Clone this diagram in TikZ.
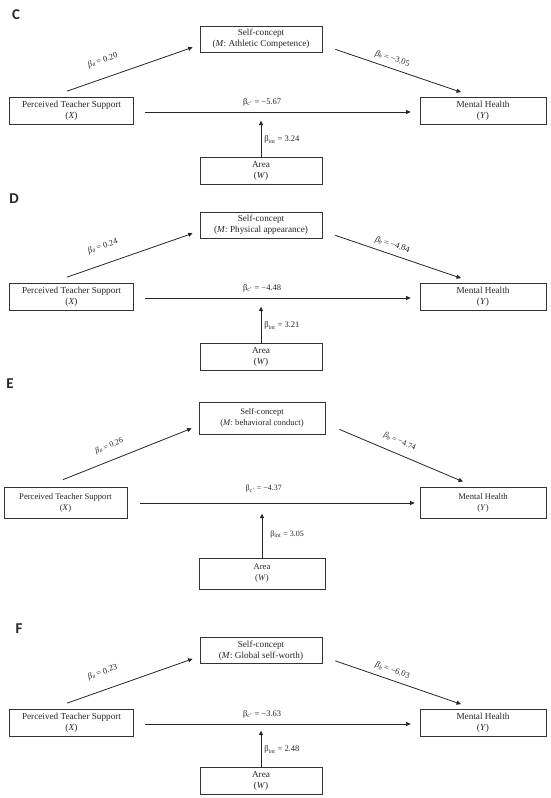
\documentclass[tikz,border=0pt]{standalone}
\usepackage{fontspec}
\setmainfont{Liberation Serif}
\newfontfamily\panelfont{Carlito}
\usetikzlibrary{arrows.meta}
\begin{document}
\begin{tikzpicture}[x=1pt,y=-1pt,
  every node/.style={text=black!85},
  box/.style={draw=black!80, line width=0.7pt, align=center, inner sep=0pt, minimum height=27pt, font=\fontsize{9.2}{11}\selectfont},
  boxE/.style={box, minimum height=31pt, font=\fontsize{8.6}{11}\selectfont},
  arr/.style={draw=black!85, line width=0.8pt, -{Triangle[length=4.5pt,width=4pt]}},
  lab/.style={font=\fontsize{8.5}{10}\selectfont, inner sep=0pt},
  labE/.style={font=\fontsize{8}{10}\selectfont, inner sep=0pt},
  panel/.style={font=\panelfont\bfseries\fontsize{15}{15}\selectfont, inner sep=0pt}
]
\useasboundingbox[fill=white] (0,0) rectangle (550,798);

% ---------------- Panel C ----------------
\node[panel] (lC) at (16,15) {C};
\node[box, minimum width=124pt] (XC) at (71.5,110.5) {Perceived Teacher Support\\(\textit{X})};
\node[box, minimum width=122pt, minimum height=26pt] (MC) at (261,39) {Self-concept\\(\textit{M}: Athletic Competence)};
\node[box, minimum width=126pt] (YC) at (483,110.5) {Mental Health\\(\textit{Y})};
\node[box, minimum width=122pt] (WC) at (261,170.5) {Area\\(\textit{W})};
\draw[arr] ([shift={(-4.5pt,5.5pt)}]XC.north) -- node[lab, sloped, above=13pt, pos=0.33] {\textit{β}\textsubscript{\textit{a}}\,= 0.20} ([shift={(-7pt,5pt)}]MC.south west);
\draw[arr] ([shift={(13pt,3pt)}]MC.south east) -- node[lab, sloped, above=5pt, pos=0.43] {\textit{β}\textsubscript{\textit{b}}\,= −3.05} ([shift={(-22pt,4.5pt)}]YC.north);
\draw[arr] ([shift={(11.5pt,-1.5pt)}]XC.east) -- node[lab, above=5.5pt, pos=0.44] {β\textsubscript{c'} = −5.67} ([shift={(-9pt,-1.5pt)}]YC.west);
\draw[arr] (WC.north) -- node[lab, right=3pt, pos=0.47] {β\textsubscript{int} = 3.24} ([yshift=36pt]WC.north);

% ---------------- Panel D ----------------
\node[panel] (lD) at (14,199) {D};
\node[box, minimum width=124pt] (XD) at (71.5,296.5) {Perceived Teacher Support\\(\textit{X})};
\node[box, minimum width=122pt, minimum height=26pt] (MD) at (261,225) {Self-concept\\(\textit{M}: Physical appearance)};
\node[box, minimum width=126pt] (YD) at (483,296.5) {Mental Health\\(\textit{Y})};
\node[box, minimum width=122pt] (WD) at (261,356.5) {Area\\(\textit{W})};
\draw[arr] ([shift={(-4.5pt,5.5pt)}]XD.north) -- node[lab, sloped, above=13pt, pos=0.33] {\textit{β}\textsubscript{\textit{a}}\,= 0.24} ([shift={(-7pt,5pt)}]MD.south west);
\draw[arr] ([shift={(13pt,3pt)}]MD.south east) -- node[lab, sloped, above=5pt, pos=0.43] {\textit{β}\textsubscript{\textit{b}}\,= −4.84} ([shift={(-22pt,4.5pt)}]YD.north);
\draw[arr] ([shift={(11.5pt,-1.5pt)}]XD.east) -- node[lab, above=5.5pt, pos=0.44] {β\textsubscript{c'} = −4.48} ([shift={(-9pt,-1.5pt)}]YD.west);
\draw[arr] (WD.north) -- node[lab, right=3pt, pos=0.47] {β\textsubscript{int} = 3.21} ([yshift=36pt]WD.north);

% ---------------- Panel E ----------------
\node[panel] (lE) at (10,384) {E};
\node[boxE, minimum width=123pt] (XE) at (65.5,502.5) {Perceived Teacher Support\\(\textit{X})};
\node[boxE, minimum width=126pt, minimum height=32pt] (ME) at (262,418) {Self-concept\\(\textit{M}: behavioral conduct)};
\node[boxE, minimum width=126pt] (YE) at (483,502.5) {Mental Health\\(\textit{Y})};
\node[boxE, minimum width=126pt] (WE) at (262,573.5) {Area\\(\textit{W})};
\draw[arr] ([shift={(-2.5pt,7pt)}]XE.north) -- node[labE, sloped, above=10pt, pos=0.40] {\textit{β}\textsubscript{\textit{a}}\,= 0.26} ([shift={(-7pt,6pt)}]ME.south west);
\draw[arr] ([shift={(14pt,5pt)}]ME.south east) -- node[labE, sloped, above=8pt, pos=0.45] {\textit{β}\textsubscript{\textit{b}}\,= −4.74} ([shift={(-20pt,5pt)}]YE.north);
\draw[arr] ([shift={(13pt,-0.5pt)}]XE.east) -- node[labE, above=10pt, pos=0.45] {β\textsubscript{c'} = −4.37} ([shift={(-5pt,-0.5pt)}]YE.west);
\draw[arr] (WE.north) -- node[labE, right=8pt, pos=0.52] {β\textsubscript{int} = 3.05} ([yshift=44pt]WE.north);

% ---------------- Panel F ----------------
\node[panel] (lF) at (19,629) {F};
\node[box, minimum width=124pt] (XF) at (71.5,722.5) {Perceived Teacher Support\\(\textit{X})};
\node[box, minimum width=122pt, minimum height=26pt] (MF) at (261,650.5) {Self-concept\\(\textit{M}: Global self-worth)};
\node[box, minimum width=126pt] (YF) at (483,722.5) {Mental Health\\(\textit{Y})};
\node[box, minimum width=122pt] (WF) at (261,780.5) {Area\\(\textit{W})};
\draw[arr] ([shift={(-4.5pt,5.5pt)}]XF.north) -- node[lab, sloped, above=13pt, pos=0.33] {\textit{β}\textsubscript{\textit{a}}\,= 0.23} ([shift={(-7pt,5pt)}]MF.south west);
\draw[arr] ([shift={(13pt,3pt)}]MF.south east) -- node[lab, sloped, above=5pt, pos=0.43] {\textit{β}\textsubscript{\textit{b}}\,= −6.03} ([shift={(-22pt,4.5pt)}]YF.north);
\draw[arr] ([shift={(11.5pt,-1.5pt)}]XF.east) -- node[lab, above=5.5pt, pos=0.44] {β\textsubscript{c'} = −3.63} ([shift={(-9pt,-1.5pt)}]YF.west);
\draw[arr] (WF.north) -- node[lab, right=3pt, pos=0.47] {β\textsubscript{int} = 2.48} ([yshift=36pt]WF.north);
\end{tikzpicture}
\end{document}
